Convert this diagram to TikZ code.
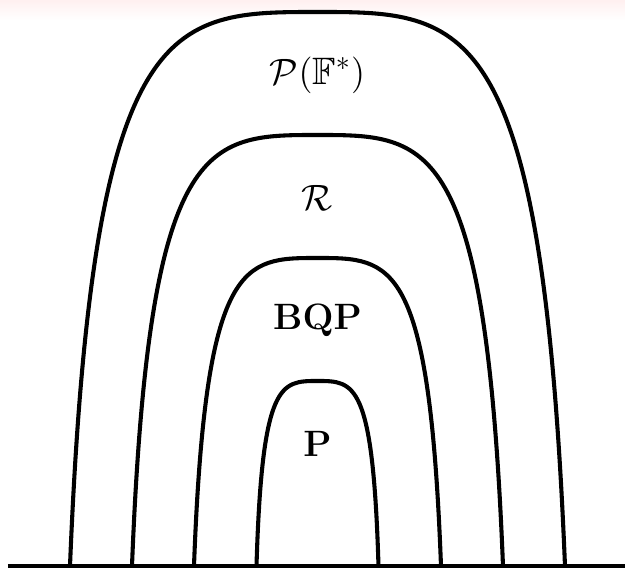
\documentclass[tikz,border=0pt]{standalone}
\usepackage{amsmath}
\usepackage{amssymb}
\usetikzlibrary{%
	calc,%
	positioning,%
}
\tikzset{
	classbound/.style={%
			line width=1.6pt,%
			line join=round},%
	classlabel/.style={%
			font=\fontsize{15}{18}\selectfont,%
			inner sep=0},%
}

\begin{document}
\begin{tikzpicture}[x=0.0138cm, y=0.0138cm]%
	\useasboundingbox (-317.5,-3) rectangle (307.5,566);
	\shade[top color=red!6, bottom color=white] (-317.5,546) rectangle (307.5,566);

	\draw[classbound] (-247.5,0) .. controls (-225,554) and (-148,554) .. (0,554)
		.. controls (148,554) and (225,554) .. (247.5,0);
	\draw[classbound] (-185.5,0) .. controls (-168.5,431) and (-111,431) .. (0,431)
		.. controls (111,431) and (168.5,431) .. (185.5,0);
	\draw[classbound] (-123.5,0) .. controls (-112,308) and (-74,308) .. (0,308)
		.. controls (74,308) and (112,308) .. (123.5,0);
	\draw[classbound] (-61,0) .. controls (-55.5,185) and (-36.6,185) .. (0,185)
		.. controls (36.6,185) and (55.5,185) .. (61,0);

	\draw[classbound] (-309.5,0) -- (307.5,0);

	\node[classlabel] (pf) at (0,491) {$\mathcal{P}(\mathbb{F}^*)$};
	\node[classlabel] (re) at (0,368) {$\mathcal{R}$};
	\node[classlabel] (bqp) at (0,246) {$\mathbf{BQP}$};
	\node[classlabel] (p) at (0,122) {$\mathbf{P}$};
\end{tikzpicture}
\end{document}
